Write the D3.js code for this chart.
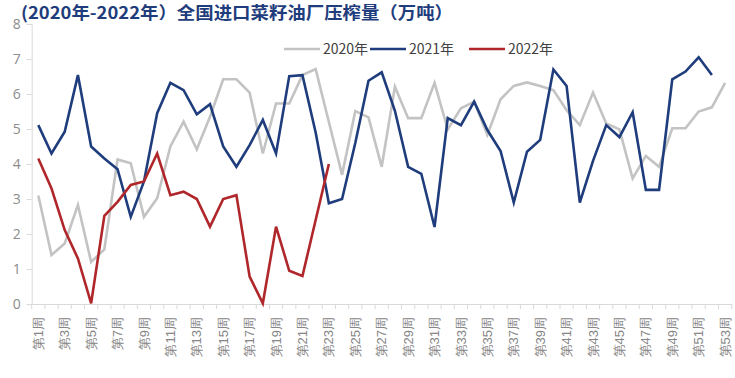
<!DOCTYPE html>
<html><head><meta charset="utf-8">
<script src="https://cdn.jsdelivr.net/npm/d3@7"></script>
<style>
html,body{margin:0;padding:0;background:#fff;}
svg{display:block;font-family:"Noto Sans CJK SC","Noto Sans",sans-serif;}
</style></head>
<body><svg id="c" width="735" height="378"></svg>
<script>
const weeks = d3.range(1, 54).map(i => "第" + i + "周");
const yTicks = [0,1,2,3,4,5,6,7,8];
const seriesNames = ["2020年", "2021年", "2022年"];
const seriesColors = ["#c3c3c3", "#1f3d7c", "#b0272b"];
const v2020 = [3.1,1.4,1.73,2.83,1.2,1.56,4.13,4.02,2.49,3.02,4.5,5.21,4.42,5.35,6.42,6.42,6.04,4.3,5.73,5.73,6.54,6.71,5.2,3.69,5.51,5.33,3.92,6.21,5.31,5.31,6.32,4.99,5.59,5.78,4.83,5.85,6.23,6.33,6.23,6.11,5.54,5.11,6.04,5.16,4.99,3.59,4.23,3.92,5.02,5.02,5.5,5.62,6.32];
const v2021 = [5.11,4.3,4.92,6.54,4.5,4.16,3.85,2.49,3.5,5.45,6.32,6.11,5.42,5.71,4.5,3.92,4.54,5.26,4.3,6.51,6.54,4.9,2.88,3.0,4.6,6.38,6.62,5.52,3.92,3.72,2.2,5.31,5.11,5.78,4.97,4.37,2.9,4.35,4.69,6.7,6.23,2.9,4.09,5.11,4.77,5.48,3.26,3.26,6.42,6.64,7.05,6.54];
const v2022 = [4.16,3.3,2.11,1.3,0.02,2.52,2.92,3.4,3.5,4.3,3.11,3.21,3.0,2.21,3.0,3.11,0.78,0.02,2.21,0.95,0.8,2.4,4.0];
const seriesValues = [v2020, v2021, v2022];
const titleText = "(2020年-2022年）全国进口菜籽油厂压榨量（万吨）";

const svg = d3.select("#c");
const x = d3.scaleBand().domain(weeks).range([31.7, 731.7]).paddingInner(0).paddingOuter(0);
const y = d3.scaleLinear().domain([0, 8]).range([304, 24]);

// y axis
const ya = svg.append("g").attr("transform", "translate(31.7,0)")
  .call(d3.axisLeft(y).tickValues(yTicks).tickSize(5).tickPadding(6).tickFormat(d3.format("d")));
ya.select(".domain").attr("stroke", "#d9d9d9");
ya.selectAll(".tick line").attr("stroke", "#d9d9d9");
ya.selectAll("text").attr("fill", "#8c8c8c").attr("font-size", 14).attr("font-family", "Open Sans, Noto Sans, sans-serif");

// x axis
const xa = svg.append("g").attr("transform", "translate(0,304)")
  .call(d3.axisBottom(x).tickValues(weeks.filter((d, i) => i % 2 === 0)).tickSize(0).tickPadding(0));
xa.select(".domain").attr("stroke", "#d9d9d9");
xa.selectAll("text")
  .attr("fill", "#858585").attr("font-size", 13)
  .attr("text-anchor", "end")
  .attr("dy", "0.35em")
  .attr("transform", "translate(0,13) rotate(-90)")
  .attr("x", 0).attr("y", 0);
const step = x.step();
xa.selectAll("line.bt").data(d3.range(weeks.length + 1)).enter().append("line")
  .attr("class", "bt")
  .attr("x1", i => x.range()[0] + i * step).attr("x2", i => x.range()[0] + i * step)
  .attr("y1", 0).attr("y2", 5).attr("stroke", "#d9d9d9");

// lines
const line = d3.line().x((d, i) => x(weeks[i]) + x.bandwidth() / 2).y(d => y(d));
seriesValues.forEach((vals, k) => {
  svg.append("path").datum(vals).attr("d", line)
    .attr("fill", "none").attr("stroke", seriesColors[k]).attr("stroke-width", 2.6)
    .attr("stroke-linejoin", "miter");
});

// legend
const legX = [284, 370, 469];
const lg = svg.append("g");
seriesNames.forEach((n, k) => {
  lg.append("line").attr("x1", legX[k]).attr("x2", legX[k] + 36).attr("y1", 49).attr("y2", 49)
    .attr("stroke", seriesColors[k]).attr("stroke-width", 2.6);
  lg.append("text").attr("x", legX[k] + 39).attr("y", 49).attr("dy", "0.36em")
    .attr("font-size", 14).attr("fill", "#404040").text(n);
});

// title
svg.append("text").attr("x", 21).attr("y", 13).attr("dy", "0.36em")
  .attr("font-size", 17).attr("font-weight", "bold").attr("fill", "#1f3d7c")
  .attr("textLength", 432).attr("lengthAdjust", "spacingAndGlyphs")
  .text(titleText);
</script></body></html>
